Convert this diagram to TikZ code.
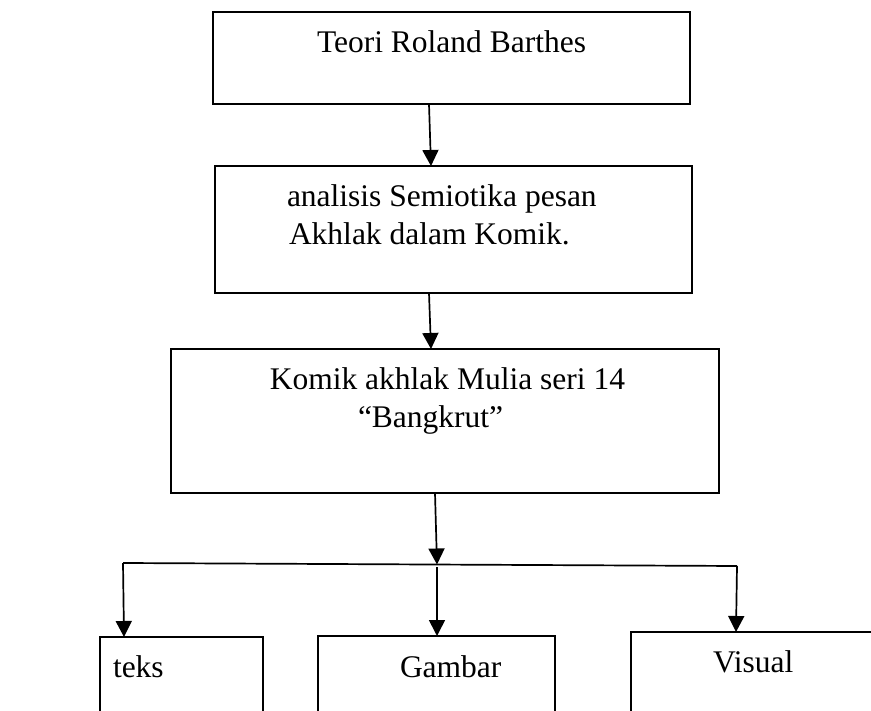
\documentclass[tikz,border=0pt]{standalone}
\usepackage{fontspec}
\setmainfont{Liberation Serif}
\usetikzlibrary{arrows.meta}
\begin{document}
\begin{tikzpicture}[x=1pt,y=-1pt,
  box/.style={draw, rectangle, line width=2pt, inner sep=0pt, outer sep=0pt, anchor=north west},
  txt/.style={font=\fontsize{31.5}{38}\selectfont, inner sep=0pt, outer sep=0pt},
  conn/.style={line width=1.7pt, -{Triangle[length=16pt,width=16pt]}},
  plain/.style={line width=1.7pt}
]
\useasboundingbox (0,0) rectangle (871,711);
\clip (0,0) rectangle (871,711);
% boxes
\node[box, minimum width=477pt, minimum height=92pt] (b1) at (213,12) {};
\node[box, minimum width=477pt, minimum height=127pt] (b2) at (215,166) {};
\node[box, minimum width=548pt, minimum height=144pt] (b3) at (171,349) {};
\node[box, minimum width=163pt, minimum height=140pt] (b4) at (100,637) {};
\node[box, minimum width=237pt, minimum height=140pt] (b5) at (318,636) {};
\node[box, minimum width=260pt, minimum height=140pt] (b6) at (631,632) {};
% texts
\node[txt, anchor=base west] (t1) at (317,53) {Teori Roland Barthes};
\node[txt, anchor=base west] (t2a) at (287,207) {analisis Semiotika pesan};
\node[txt, anchor=base west] (t2b) at (289,245) {Akhlak dalam Komik.};
\node[txt, anchor=base east] (t3a) at (625,390) {Komik akhlak Mulia seri 14};
\node[txt, anchor=base west] (t3b) at (358,428) {“Bangkrut”};
\node[txt, anchor=base west] (t4) at (113,677) {teks};
\node[txt, anchor=base west] (t5) at (400,677) {Gambar};
\node[txt, anchor=base west] (t6) at (713,672) {Visual};
% connectors
\coordinate (hl) at (123,563);
\coordinate (hr) at (737,566);
\coordinate (hm) at (437,564.5);
\coordinate (hmb) at (437,567);
\draw[conn] ([xshift=-22.5pt]b1.south) -- ([xshift=-22.5pt]b2.north);
\draw[conn] ([xshift=-24.5pt]b2.south) -- ([xshift=-14pt]b3.north);
\draw[conn] ([xshift=-10pt]b3.south) -- (hm);
\draw[plain] (hl) -- (hr);
\draw[conn] (hl) -- (b4.north -| 124,0);
\draw[conn] (hmb) -- (b5.north -| 437,0);
\draw[conn] (hr) -- (b6.north -| 736,0);
\end{tikzpicture}
\end{document}
